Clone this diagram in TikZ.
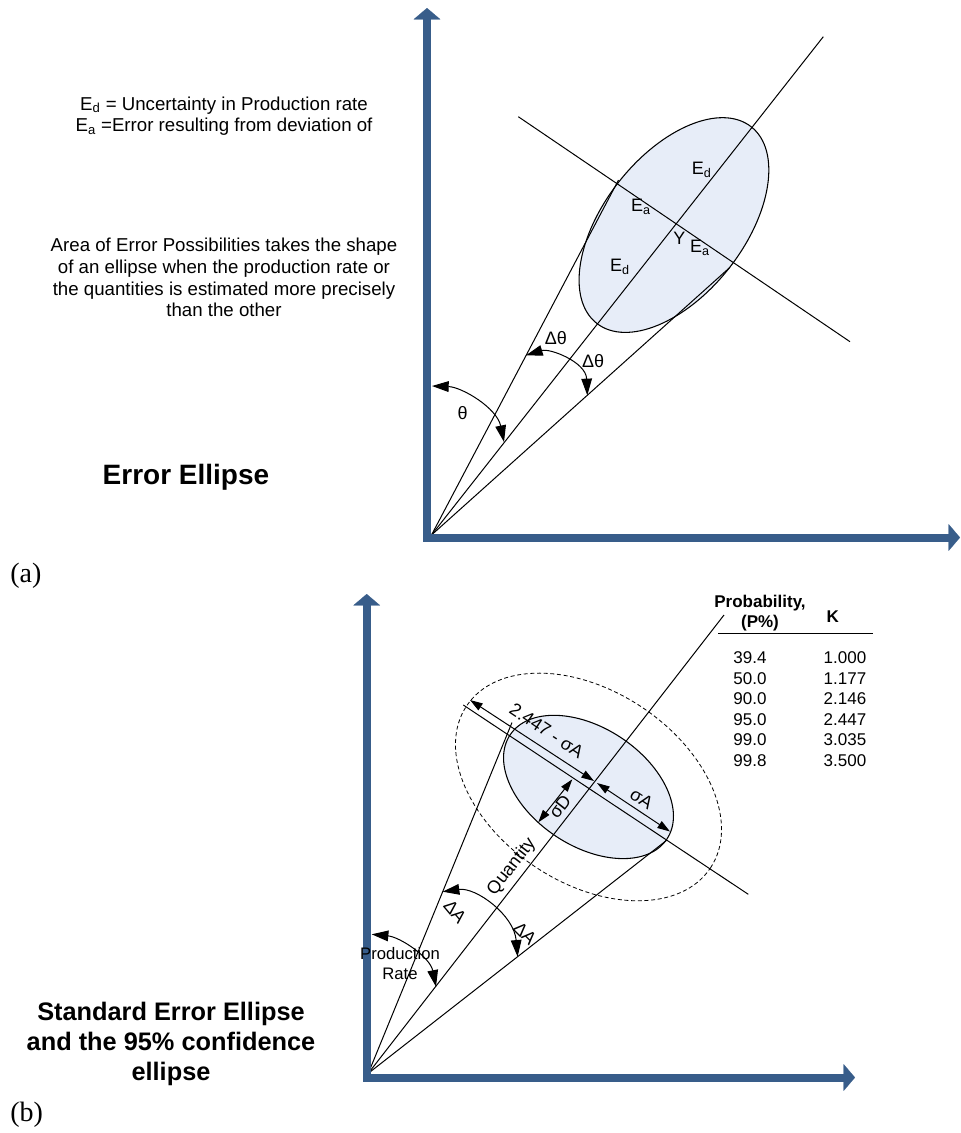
\documentclass[tikz,border=0pt]{standalone}
\usepackage{fontspec}
\setmainfont{Liberation Sans}
\newfontfamily\panelfont{Liberation Serif}
\usetikzlibrary{arrows.meta, positioning, calc}
\definecolor{cAxis}{HTML}{385D8A}
\definecolor{cFill}{HTML}{E7EDF8}
\definecolor{cInk}{HTML}{000000}
\tikzset{
  axisline/.style={draw=cAxis, line width=6pt,
    {Triangle[length=8.5pt, width=20pt, line width=0.1pt, fill=cAxis]}-{Triangle[length=8.5pt, width=20pt, line width=0.1pt, fill=cAxis]}},
  ray/.style={draw=cInk, line width=0.75pt},
  errell/.style={draw=cInk, line width=0.8pt, fill=cFill},
  confell/.style={draw=cInk, line width=0.6pt, dash pattern=on 3pt off 2pt},
  angarc/.style={draw=cInk, line width=0.75pt,
    {Triangle[length=12.5pt, width=8pt]}-{Triangle[length=12.5pt, width=8pt]}},
  dimline/.style={draw=cInk, line width=0.75pt,
    {Triangle[length=9.5pt, width=6pt]}-{Triangle[length=9.5pt, width=6pt]}},
  lbl/.style={font=\fontsize{13.5}{16}\selectfont, inner sep=0pt},
  notetext/.style={font=\fontsize{14}{16.25}\selectfont, align=center, inner sep=0pt},
  headline/.style 2 args={font=\fontsize{#1}{#2}\selectfont\bfseries, align=center, inner sep=0pt},
  panellbl/.style={font=\panelfont\fontsize{21}{24}\selectfont, inner sep=0pt, anchor=west},
  tabtext/.style={font=\fontsize{12.75}{15}\selectfont, inner sep=0pt},
}
\begin{document}
\begin{tikzpicture}[x=0.75pt, y=-0.75pt]
\useasboundingbox (0,0) rectangle (961,1133);

% (a) error ellipse
\coordinate (ea) at (674,225);
\draw[errell, rotate around={51.8:(ea)}] (ea) ellipse [x radius=93.75pt, y radius=52.5pt];

\coordinate (oa) at (431.5,535);
\coordinate (ua) at (618.5,180);
\coordinate (ma) at (823.3,36.7);
\coordinate (la) at (730,267.3);
\coordinate (ca1) at (518.3,116.7);
\coordinate (ca2) at (850,341.7);
\foreach \e in {ua,ma,la}
  \draw[ray] (oa) -- (\e);
\draw[ray] (ca1) -- (ca2);

\coordinate (yta) at (427,8);
\coordinate (cora) at (427,537.5);
\coordinate (xta) at (960,537.5);
\draw[axisline] (yta) -- (cora) -- (xta);

\coordinate (th1) at (432,386);
\coordinate (th2) at (504,442);
\draw[angarc] (th1) .. controls (462,387) and (497,408) .. (th2);
\coordinate (dt1) at (526,355.3);
\coordinate (dt2) at (587.3,395.3);
\draw[angarc] (dt1) .. controls (550,348) and (586,362) .. (dt2);

\node[lbl] (th) at (462.6,413.2) {θ};
\node[lbl] (dta) at (555.8,338.2) {Δθ};
\node[lbl] (dtb) at (593.2,361.4) {Δθ};
\node[lbl] (edu) at (701.7,170) {E\textsubscript{d}};
\node[lbl] (eau) at (641,206.7) {E\textsubscript{a}};
\node[lbl] (yy) at (679.3,238.3) {Y};
\node[lbl] (eal) at (700,248.3) {E\textsubscript{a}};
\node[lbl] (edl) at (620,266.7) {E\textsubscript{d}};

\node[notetext] (defs) at (224,116) {E\textsubscript{d} = Uncertainty in Production rate\\E\textsubscript{a} =Error resulting from deviation of};
\node[notetext] (area) at (224,277.5) {Area of Error Possibilities takes the shape\\of an ellipse when the production rate or\\the quantities is estimated more precisely\\than the other};
\node[headline={21}{24}] (tta) at (186,477) {Error Ellipse};
\node[panellbl] (pa) at (10,576) {(a)};

% (b) standard and 95% ellipse
\coordinate (eb) at (588.5,787);
\draw[confell, rotate around={-33.6:(eb)}] (eb) ellipse [x radius=109.8pt, y radius=72pt];
\draw[errell, rotate around={-33.6:(eb)}] (eb) ellipse [x radius=70.6pt, y radius=44.3pt];

\coordinate (ob) at (368.3,1073.3);
\coordinate (ub) at (512,722.5);
\coordinate (mb) at (724,615);
\coordinate (lb) at (667,840);
\coordinate (cb1) at (463.3,705);
\coordinate (cb2) at (748.3,894.3);
\foreach \e in {ub,mb,lb}
  \draw[ray] (ob) -- (\e);
\draw[ray] (cb1) -- (cb2);

\coordinate (ytb) at (366.7,594);
\coordinate (corb) at (366.7,1077.5);
\coordinate (xtb) at (855,1077.5);
\draw[axisline] (ytb) -- (corb) -- (xtb);

\coordinate (ka) at (470,700);
\coordinate (kb) at (594,781);
\coordinate (sa) at (597,783);
\coordinate (sb) at (670,831.5);
\coordinate (sd1) at (572.3,779.3);
\coordinate (sd2) at (538.3,822.3);
\draw[dimline] (ka) -- (kb);
\draw[dimline] (sa) -- (sb);
\draw[dimline] (sd1) -- (sd2);

\coordinate (pr1) at (371.7,934.3);
\coordinate (pr2) at (436,986.7);
\draw[angarc] (pr1) .. controls (400,937) and (430,957) .. (pr2);
\coordinate (da1) at (442.7,891.7);
\coordinate (da2) at (517.6,956.7);
\draw[angarc] (da1) .. controls (476,887) and (514,915) .. (da2);

\node[lbl, rotate=-33.6] (kl) at (546.7,730.7) {2.447 - σA};
\node[lbl, rotate=-33.6] (sal) at (641.7,798.3) {σA};
\node[lbl, rotate=52] (sdl) at (560,806.7) {σD};
\node[lbl, rotate=52.2] (qty) at (511.7,866.7) {Quantity};
\node[lbl, rotate=-50] (daa) at (455,911.7) {ΔA};
\node[lbl, rotate=-45] (dab) at (525,933.3) {ΔA};
\node[lbl, font=\fontsize{12.5}{15}\selectfont, align=center] (prl) at (400,963.3) {Production\\Rate};

\node[tabtext, font=\fontsize{12.75}{15}\selectfont\bfseries, align=center] (ph) at (760,613.3) {Probability,\\(P\%)};
\node[tabtext, font=\fontsize{12.75}{15}\selectfont\bfseries] (kh) at (832.7,616.7) {K};
\coordinate (rl) at (718.3,633.3);
\coordinate (rr) at (873.3,633.3);
\draw[ray] (rl) -- (rr);
\foreach \p/\k [count=\i from 0] in {39.4/1.000, 50.0/1.177, 90.0/2.146, 95.0/2.447, 99.0/3.035, 99.8/3.500} {
  \node[tabtext] (p\i) at (750,{657.7+20.5*\i}) {\p};
  \node[tabtext] (k\i) at (845,{657.7+20.5*\i}) {\k};
}

\node[headline={19}{22.5}] (ttb) at (171,1043.5) {Standard Error Ellipse\\and the 95\% confidence\\ellipse};
\node[panellbl] (pb) at (10,1115) {(b)};
\end{tikzpicture}
\end{document}
